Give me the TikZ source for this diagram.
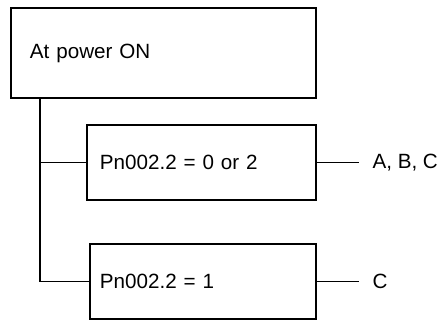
\documentclass[tikz,border=0pt]{standalone}
\usepackage{fontspec}
\setmainfont{Liberation Sans}
\usepackage{tikz}
\usetikzlibrary{positioning}

\begin{document}
\begin{tikzpicture}[
    x=0.03cm, y=-0.03cm,
    box/.style={draw, line width=1pt, align=left, inner ysep=0pt, font=\fontsize{17.6}{20}\selectfont},
    lbl/.style={anchor=west, inner xsep=0.4cm, inner ysep=0pt, font=\fontsize{17.6}{20}\selectfont},
    wire/.style={line width=1pt}
  ]
    \useasboundingbox (0,0) rectangle (443,320);

    \node[box, text width=8.01cm, inner xsep=0.57cm, minimum height=2.7cm] (power) at (163.5,53) {At power ON};

    \node[box, text width=6.09cm, inner xsep=0.39cm, minimum height=2.25cm] (opt1) at (201.5,162.5) {Pn002.2 = 0 or 2};
    \node[box, text width=6.18cm, inner xsep=0.3cm, minimum height=2.25cm] (opt2) at (203,281.5) {Pn002.2 = 1};

    \node[lbl] (abc) at (359,162.5) {A, B, C};
    \node[lbl] (c) at (359,281.5) {C};

    \coordinate (fork1) at (40,162.5);
    \coordinate (fork2) at (40,281.5);

    \draw[wire] (power.south -| fork2) |- (opt2.west);
    \draw[wire] (fork1) -- (opt1.west);
    \draw[wire] (opt1.east) -- (abc.west);
    \draw[wire] (opt2.east) -- (c.west);
  \end{tikzpicture}
\end{document}
